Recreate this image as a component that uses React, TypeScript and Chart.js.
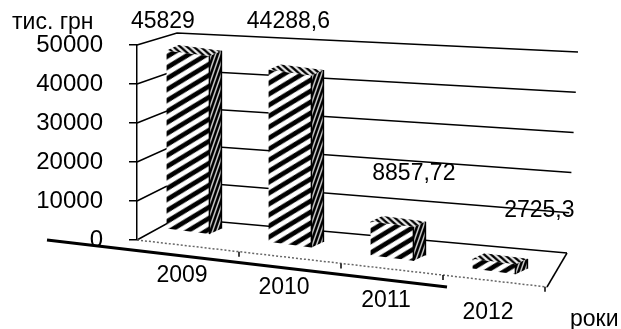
import React, { useEffect, useRef } from "react";
import { Chart, registerables } from "chart.js";

Chart.register(...registerables);

const categories = ["2009", "2010", "2011", "2012"];
const values = [45829, 44288.6, 8857.72, 2725.3];
const valueLabels = ["45829", "44288,6", "8857,72", "2725,3"];
const yTicks = [0, 10000, 20000, 30000, 40000, 50000];
const yTitle = "тис. грн";
const xTitle = "роки";

const FONT = "'Liberation Sans', Arial, sans-serif";

// Seamless stripe pattern generated per pixel (supersampled).
function makePattern(w: number, h: number, duty: number, dir: "/" | "\\", light: number) {
  const c = document.createElement("canvas");
  c.width = w;
  c.height = h;
  const g = c.getContext("2d")!;
  const img = g.createImageData(w, h);
  const S = 4;
  for (let y = 0; y < h; y++) {
    for (let x = 0; x < w; x++) {
      let cov = 0;
      for (let sy = 0; sy < S; sy++) {
        for (let sx = 0; sx < S; sx++) {
          const px = x + (sx + 0.5) / S;
          const py = y + (sy + 0.5) / S;
          let ph = dir === "/" ? px / w + py / h : px / w - py / h;
          ph = ph - Math.floor(ph);
          if (ph < duty) cov++;
        }
      }
      const a = cov / (S * S);
      const v = Math.round(light * (1 - a));
      const i = (y * w + x) * 4;
      img.data[i] = v;
      img.data[i + 1] = v;
      img.data[i + 2] = v;
      img.data[i + 3] = 255;
    }
  }
  g.putImageData(img, 0, 0);
  return g.createPattern(c, "repeat")!;
}

export default function App() {
  const ref = useRef<HTMLCanvasElement>(null);

  useEffect(() => {
    const canvas = ref.current!;
    const frontPat = makePattern(15, 11, 0.5, "/", 255);
    const sidePat = makePattern(4, 12, 0.62, "/", 200);
    const topPat = makePattern(8, 6, 0.5, "\\", 235);

    const K = 0.131; // vertical skew for the pseudo-perspective
    const DX = 12;
    const DY = 7;

    const perspective = {
      id: "perspective",
      beforeDatasetsDraw(chart: any) {
        const { ctx, chartArea } = chart;
        const L = chartArea.left;
        const B = chartArea.bottom;
        const H = chartArea.bottom - chartArea.top;
        const ys = chart.scales.y;
        ctx.save();
        ctx.strokeStyle = "#000";
        ctx.lineWidth = 1.5;
        for (const v of yTicks) {
          const yf = ys.getPixelForValue(v);
          const f = (B - yf) / H;
          const blx = L + 40;
          const bly = B - 22 - f * 185;
          const brx = L + 430 + 11 * f;
          const bry = B + 13 - f * 201;
          ctx.beginPath();
          ctx.moveTo(L, yf);
          ctx.lineTo(blx, bly);
          ctx.lineTo(brx, bry);
          ctx.stroke();
        }
        // floor right edge
        ctx.beginPath();
        ctx.moveTo(L + 430, B + 13);
        ctx.lineTo(L + 410, B + 47);
        ctx.stroke();
        // floor front edge (dotted)
        ctx.save();
        ctx.strokeStyle = "#666";
        ctx.setLineDash([2, 2]);
        ctx.beginPath();
        ctx.moveTo(L, B);
        ctx.lineTo(L + 410, B + 47);
        ctx.stroke();
        ctx.restore();
        // small ticks on the floor front edge
        const xs = chart.scales.x;
        for (let i = 1; i <= categories.length; i++) {
          const px = i < categories.length
            ? (xs.getPixelForValue(i - 1) + xs.getPixelForValue(i)) / 2
            : chartArea.right;
          const py = B + (47 / 410) * (px - L);
          ctx.beginPath();
          ctx.moveTo(px, py);
          ctx.lineTo(px, py + 5);
          ctx.stroke();
        }
        // thick line
        ctx.lineWidth = 3;
        ctx.beginPath();
        ctx.moveTo(L - 90, B);
        ctx.lineTo(L + 310, B + 47);
        ctx.stroke();
        ctx.restore();

        const x0 = L + 112;
        ctx.save();
        ctx.transform(1, K, 0, 1, 0, -K * x0);
      },
      afterDatasetsDraw(chart: any) {
        const { ctx } = chart;
        const meta = chart.getDatasetMeta(0);
        for (const el of meta.data) {
          const p = el.getProps(["x", "y", "base", "width"], true);
          const xl = p.x - p.width / 2;
          const xr = p.x + p.width / 2;
          const yt = p.y;
          const yb = p.base;
          // side face
          ctx.beginPath();
          ctx.moveTo(xr, yt);
          ctx.lineTo(xr + DX, yt - DY);
          ctx.lineTo(xr + DX, yb - DY);
          ctx.lineTo(xr, yb);
          ctx.closePath();
          ctx.fillStyle = sidePat;
          ctx.fill();
          ctx.strokeStyle = "#000";
          ctx.lineWidth = 1.5;
          ctx.beginPath();
          ctx.moveTo(xr, yt);
          ctx.lineTo(xr, yb);
          ctx.moveTo(xr + DX, yt - DY);
          ctx.lineTo(xr + DX, yb - DY);
          ctx.stroke();
          // top face
          ctx.beginPath();
          ctx.moveTo(xl, yt);
          ctx.lineTo(xr, yt);
          ctx.lineTo(xr + DX, yt - DY);
          ctx.lineTo(xl + DX, yt - DY);
          ctx.closePath();
          ctx.fillStyle = topPat;
          ctx.fill();
        }
        ctx.restore();

        const L = chart.chartArea.left;
        const x0 = L + 112;
        ctx.save();
        ctx.fillStyle = "#000";
        ctx.font = `23px ${FONT}`;
        ctx.textAlign = "center";
        ctx.textBaseline = "middle";
        meta.data.forEach((el: any, i: number) => {
          const p = el.getProps(["x", "y"], true);
          const top = p.y + K * (p.x - x0) - DY;
          const ly = Math.max(22, top - 44);
          const lx = p.x + 0.23 * (p.x - (L + 160));
          ctx.fillText(valueLabels[i], lx, ly);
        });
        ctx.restore();
      },
      afterDraw(chart: any) {
        const { ctx, chartArea } = chart;
        const L = chartArea.left;
        const B = chartArea.bottom;
        const xs = chart.scales.x;
        ctx.save();
        ctx.fillStyle = "#000";
        ctx.font = `23px ${FONT}`;
        ctx.textBaseline = "middle";
        ctx.textAlign = "center";
        categories.forEach((c, i) => {
          const x = xs.getPixelForValue(i) - 6;
          const y = B + 36 + 0.12 * (x - (L + 46));
          ctx.fillText(c, x, y);
        });
        ctx.textAlign = "left";
        ctx.fillText(yTitle, 12, 23);
        ctx.fillText(xTitle, L + 433, B + 80);
        ctx.restore();
      },
    };

    const chart = new Chart(canvas, {
      type: "bar",
      data: {
        labels: categories,
        datasets: [
          {
            data: values,
            backgroundColor: frontPat,
            borderWidth: 0,
            barPercentage: 1,
            categoryPercentage: 0.42,
            clip: false,
          } as any,
        ],
      },
      options: {
        responsive: false,
        animation: false,
        events: [],
        layout: { padding: { top: 45, bottom: 89, left: 0, right: 76 } },
        plugins: {
          legend: { display: false },
          tooltip: { enabled: false },
          title: { display: false },
        },
        scales: {
          x: { display: false },
          y: {
            min: 0,
            max: 50000,
            afterFit: (s: any) => {
              s.width = 137;
            },
            afterBuildTicks: (s: any) => {
              s.ticks = yTicks.map((v) => ({ value: v }));
            },
            ticks: {
              color: "#000",
              padding: 26,
              font: { family: FONT, size: 24 },
              callback: (v: any) => String(v),
            },
            grid: {
              drawOnChartArea: false,
              drawTicks: true,
              tickLength: 8,
              color: "#000",
              lineWidth: 1.5,
            },
            border: { display: true, color: "#000", width: 1.5 },
          },
        },
      },
      plugins: [perspective],
    });
    return () => chart.destroy();
  }, []);

  return (
    <div style={{ position: "fixed", left: 0, top: 0, width: 621, height: 329, background: "#fff" }}>
      <canvas ref={ref} width={621} height={329} style={{ display: "block" }} />
    </div>
  );
}
